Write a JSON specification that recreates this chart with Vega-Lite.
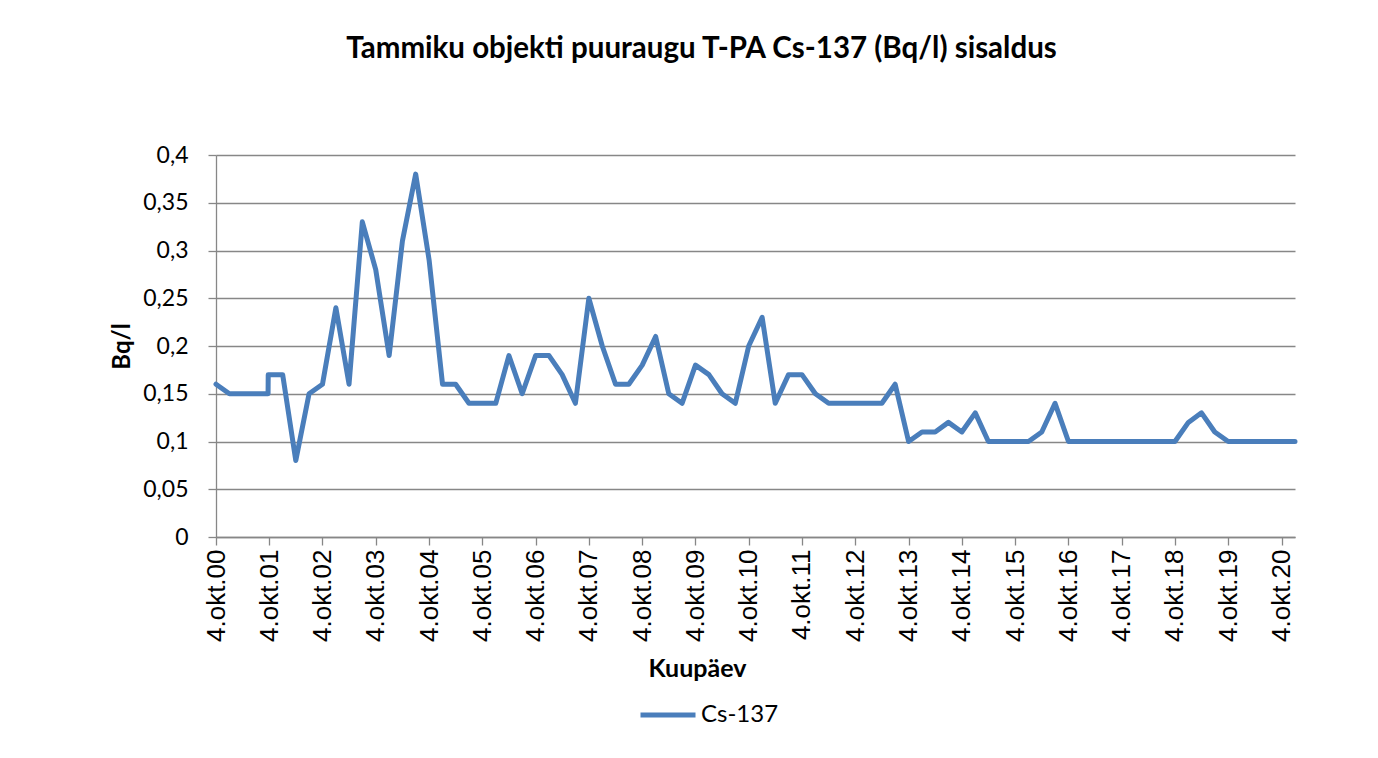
{
  "$schema": "https://vega.github.io/schema/vega-lite/v6.json",
  "width": 1079,
  "height": 382,
  "autosize": {"type": "none"},
  "padding": {"left": 216, "top": 155, "right": 83, "bottom": 221},
  "background": "white",
  "title": {
    "text": "Tammiku objekti puuraugu T-PA Cs-137 (Bq/l) sisaldus",
    "font": "Lato",
    "fontSize": 29.5,
    "fontWeight": "bold",
    "color": "#000000",
    "anchor": "middle",
    "frame": "group",
    "dx": -54,
    "baseline": "alphabetic",
    "offset": 57
  },
  "data": {
    "values": [
      {"date": "2000-10-04", "value": 0.16},
      {"date": "2001-01-04", "value": 0.15},
      {"date": "2001-04-04", "value": 0.15},
      {"date": "2001-07-04", "value": 0.15},
      {"date": "2001-09-26", "value": 0.15},
      {"date": "2001-09-27", "value": 0.17},
      {"date": "2002-01-04", "value": 0.17},
      {"date": "2002-04-04", "value": 0.08},
      {"date": "2002-07-04", "value": 0.15},
      {"date": "2002-10-04", "value": 0.16},
      {"date": "2003-01-04", "value": 0.24},
      {"date": "2003-04-04", "value": 0.16},
      {"date": "2003-07-04", "value": 0.33},
      {"date": "2003-10-04", "value": 0.28},
      {"date": "2004-01-04", "value": 0.19},
      {"date": "2004-04-04", "value": 0.31},
      {"date": "2004-07-04", "value": 0.38},
      {"date": "2004-10-04", "value": 0.29},
      {"date": "2005-01-04", "value": 0.16},
      {"date": "2005-04-04", "value": 0.16},
      {"date": "2005-07-04", "value": 0.14},
      {"date": "2005-10-04", "value": 0.14},
      {"date": "2006-01-04", "value": 0.14},
      {"date": "2006-04-04", "value": 0.19},
      {"date": "2006-07-04", "value": 0.15},
      {"date": "2006-10-04", "value": 0.19},
      {"date": "2007-01-04", "value": 0.19},
      {"date": "2007-04-04", "value": 0.17},
      {"date": "2007-07-04", "value": 0.14},
      {"date": "2007-10-04", "value": 0.25},
      {"date": "2008-01-04", "value": 0.20},
      {"date": "2008-04-04", "value": 0.16},
      {"date": "2008-07-04", "value": 0.16},
      {"date": "2008-10-04", "value": 0.18},
      {"date": "2009-01-04", "value": 0.21},
      {"date": "2009-04-04", "value": 0.15},
      {"date": "2009-07-04", "value": 0.14},
      {"date": "2009-10-04", "value": 0.18},
      {"date": "2010-01-04", "value": 0.17},
      {"date": "2010-04-04", "value": 0.15},
      {"date": "2010-07-04", "value": 0.14},
      {"date": "2010-10-04", "value": 0.20},
      {"date": "2011-01-04", "value": 0.23},
      {"date": "2011-04-04", "value": 0.14},
      {"date": "2011-07-04", "value": 0.17},
      {"date": "2011-10-04", "value": 0.17},
      {"date": "2012-01-04", "value": 0.15},
      {"date": "2012-04-04", "value": 0.14},
      {"date": "2012-07-04", "value": 0.14},
      {"date": "2012-10-04", "value": 0.14},
      {"date": "2013-01-04", "value": 0.14},
      {"date": "2013-04-04", "value": 0.14},
      {"date": "2013-07-04", "value": 0.16},
      {"date": "2013-10-04", "value": 0.10},
      {"date": "2014-01-04", "value": 0.11},
      {"date": "2014-04-04", "value": 0.11},
      {"date": "2014-07-04", "value": 0.12},
      {"date": "2014-10-04", "value": 0.11},
      {"date": "2015-01-04", "value": 0.13},
      {"date": "2015-04-04", "value": 0.10},
      {"date": "2015-07-04", "value": 0.10},
      {"date": "2015-10-04", "value": 0.10},
      {"date": "2016-01-04", "value": 0.10},
      {"date": "2016-04-04", "value": 0.11},
      {"date": "2016-07-04", "value": 0.14},
      {"date": "2016-10-04", "value": 0.10},
      {"date": "2017-01-04", "value": 0.10},
      {"date": "2017-04-04", "value": 0.10},
      {"date": "2017-07-04", "value": 0.10},
      {"date": "2017-10-04", "value": 0.10},
      {"date": "2018-01-04", "value": 0.10},
      {"date": "2018-04-04", "value": 0.10},
      {"date": "2018-07-04", "value": 0.10},
      {"date": "2018-10-04", "value": 0.10},
      {"date": "2019-01-04", "value": 0.12},
      {"date": "2019-04-04", "value": 0.13},
      {"date": "2019-07-04", "value": 0.11},
      {"date": "2019-10-04", "value": 0.10},
      {"date": "2020-01-04", "value": 0.10},
      {"date": "2020-04-04", "value": 0.10},
      {"date": "2020-07-04", "value": 0.10},
      {"date": "2020-10-04", "value": 0.10},
      {"date": "2021-01-04", "value": 0.10}
    ]
  },
  "mark": {
    "type": "line",
    "strokeWidth": 5,
    "strokeJoin": "round",
    "strokeCap": "round",
    "clip": false
  },
  "encoding": {
    "x": {
      "field": "date",
      "type": "temporal",
      "scale": {"type": "utc", "nice": false},
      "axis": {
        "title": "Kuupäev",
        "titleFont": "Lato",
        "titleFontSize": 25,
        "titleFontWeight": "bold",
        "titleColor": "#000000",
        "titleX": 481,
        "titlePadding": 15,
        "values": [
          {"year": 2000, "month": 10, "date": 4, "utc": true},
          {"year": 2001, "month": 10, "date": 4, "utc": true},
          {"year": 2002, "month": 10, "date": 4, "utc": true},
          {"year": 2003, "month": 10, "date": 4, "utc": true},
          {"year": 2004, "month": 10, "date": 4, "utc": true},
          {"year": 2005, "month": 10, "date": 4, "utc": true},
          {"year": 2006, "month": 10, "date": 4, "utc": true},
          {"year": 2007, "month": 10, "date": 4, "utc": true},
          {"year": 2008, "month": 10, "date": 4, "utc": true},
          {"year": 2009, "month": 10, "date": 4, "utc": true},
          {"year": 2010, "month": 10, "date": 4, "utc": true},
          {"year": 2011, "month": 10, "date": 4, "utc": true},
          {"year": 2012, "month": 10, "date": 4, "utc": true},
          {"year": 2013, "month": 10, "date": 4, "utc": true},
          {"year": 2014, "month": 10, "date": 4, "utc": true},
          {"year": 2015, "month": 10, "date": 4, "utc": true},
          {"year": 2016, "month": 10, "date": 4, "utc": true},
          {"year": 2017, "month": 10, "date": 4, "utc": true},
          {"year": 2018, "month": 10, "date": 4, "utc": true},
          {"year": 2019, "month": 10, "date": 4, "utc": true},
          {"year": 2020, "month": 10, "date": 4, "utc": true}
        ],
        "labelExpr": "'4.okt.' + utcFormat(datum.value, '%y')",
        "labelAngle": 270,
        "labelFont": "Liberation Sans",
        "labelFontSize": 26,
        "labelColor": "#000000",
        "labelPadding": 4,
        "labelOverlap": false,
        "labelFlush": false,
        "grid": false,
        "tickSize": 8,
        "tickColor": "#878787",
        "tickWidth": 1.3,
        "domainColor": "#878787",
        "domainWidth": 1.3
      }
    },
    "y": {
      "field": "value",
      "type": "quantitative",
      "scale": {"domain": [0, 0.4], "nice": false},
      "axis": {
        "title": "Bq/l",
        "titleFont": "Lato",
        "titleFontSize": 24,
        "titleFontWeight": "bold",
        "titleColor": "#000000",
        "titlePadding": 8,
        "values": [0, 0.05, 0.1, 0.15, 0.2, 0.25, 0.3, 0.35, 0.4],
        "labelExpr": "replace(format(datum.value, '.2~f'), '.', ',')",
        "labelFont": "Lato",
        "labelFontSize": 23,
        "labelColor": "#000000",
        "labelPadding": 20,
        "tickSize": 8,
        "tickColor": "#878787",
        "tickWidth": 1.3,
        "domainColor": "#878787",
        "domainWidth": 1.3,
        "grid": true,
        "gridColor": "#878787",
        "gridWidth": 1.3
      }
    },
    "color": {
      "datum": "Cs-137",
      "type": "nominal",
      "scale": {"range": ["#4A7EBB"]},
      "legend": {
        "title": null,
        "orient": "none",
        "legendX": 422,
        "legendY": 530,
        "padding": 0,
        "symbolType": "stroke",
        "symbolSize": 3025,
        "symbolStrokeWidth": 5,
        "labelFont": "Lato",
        "labelFontSize": 24,
        "labelColor": "#000000",
        "labelOffset": 3
      }
    }
  },
  "config": {
    "view": {"stroke": null}
  }
}
